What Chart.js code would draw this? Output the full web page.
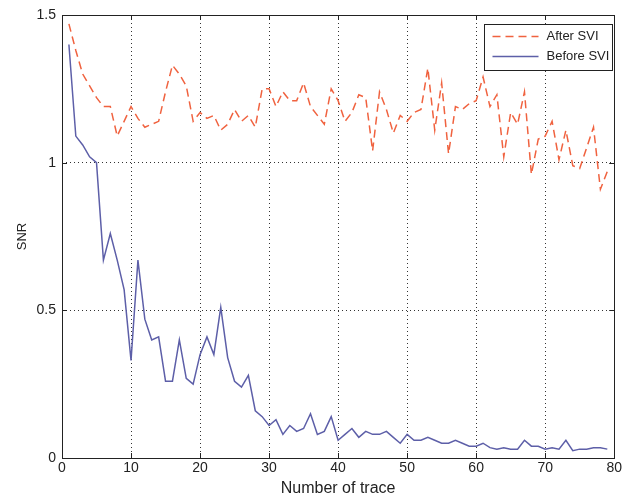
<!DOCTYPE html>
<html>
<head>
<meta charset="utf-8">
<script src="https://cdn.jsdelivr.net/npm/chart.js@4/dist/chart.umd.min.js"></script>
<style>
  html, body { margin: 0; padding: 0; background: #fff; }
  canvas { display: block; }
</style>
</head>
<body>
<canvas id="snrChart" width="624" height="503"></canvas>
<script>
// trace numbers along the x axis
const traceNumbers = [
  1, 2, 3, 4, 5, 6, 7, 8, 9, 10, 11, 12, 13, 14, 15, 16, 17, 18, 19, 20,
  21, 22, 23, 24, 25, 26, 27, 28, 29, 30, 31, 32, 33, 34, 35, 36, 37, 38, 39, 40,
  41, 42, 43, 44, 45, 46, 47, 48, 49, 50, 51, 52, 53, 54, 55, 56, 57, 58, 59, 60,
  61, 62, 63, 64, 65, 66, 67, 68, 69, 70, 71, 72, 73, 74, 75, 76, 77, 78, 79
];

// SNR after SVI (red dashed)
const snrAfter = [
  1.47, 1.38, 1.30, 1.26, 1.22, 1.19, 1.19, 1.09, 1.14, 1.19,
  1.15, 1.12, 1.13, 1.14, 1.24, 1.33, 1.30, 1.26, 1.14, 1.17,
  1.15, 1.16, 1.11, 1.13, 1.18, 1.14, 1.16, 1.12, 1.25, 1.25,
  1.19, 1.24, 1.21, 1.21, 1.27, 1.19, 1.16, 1.13, 1.25, 1.21,
  1.14, 1.17, 1.23, 1.22, 1.04, 1.24, 1.18, 1.10, 1.16, 1.14,
  1.17, 1.18, 1.32, 1.11, 1.27, 1.03, 1.19, 1.18, 1.20, 1.21,
  1.29, 1.19, 1.23, 1.02, 1.17, 1.13, 1.24, 0.96, 1.08, 1.09,
  1.14, 1.01, 1.11, 0.99, 0.98, 1.05, 1.12, 0.91, 0.97
];

// SNR before SVI (blue solid)
const snrBefore = [
  1.40, 1.09, 1.06, 1.02, 1.00, 0.67, 0.76, 0.67, 0.57, 0.33,
  0.67, 0.47, 0.40, 0.41, 0.26, 0.26, 0.40, 0.27, 0.25, 0.35,
  0.41, 0.35, 0.51, 0.34, 0.26, 0.24, 0.28, 0.16, 0.14, 0.11,
  0.13, 0.08, 0.11, 0.09, 0.10, 0.15, 0.08, 0.09, 0.14, 0.06,
  0.08, 0.10, 0.07, 0.09, 0.08, 0.08, 0.09, 0.07, 0.05, 0.08,
  0.06, 0.06, 0.07, 0.06, 0.05, 0.05, 0.06, 0.05, 0.04, 0.04,
  0.05, 0.035, 0.03, 0.035, 0.03, 0.03, 0.06, 0.04, 0.04, 0.03,
  0.035, 0.03, 0.06, 0.025, 0.03, 0.03, 0.035, 0.035, 0.03
];

const xTicks = [0, 10, 20, 30, 40, 50, 60, 70, 80];
const yTicks = [0, 0.5, 1, 1.5];

const FONT = "'Liberation Sans', Arial, sans-serif";
const RED = '#f0623f';
const BLUE = '#5d5fa8';

function toPoints(ys) {
  return traceNumbers.map((x, i) => ({ x: x, y: ys[i] }));
}

// frame, inward ticks and boxed legend, matlab style
const matlabFrame = {
  id: 'matlabFrame',
  afterDraw(chart) {
    const { ctx, chartArea: a, scales } = chart;
    ctx.save();
    ctx.strokeStyle = '#222';
    ctx.lineWidth = 1;
    ctx.setLineDash([]);
    ctx.strokeRect(Math.round(a.left) + 0.5, Math.round(a.top) + 0.5,
      Math.round(a.right - a.left), Math.round(a.bottom - a.top));

    const tl = 5;
    ctx.beginPath();
    xTicks.forEach(v => {
      const px = Math.round(scales.x.getPixelForValue(v)) + 0.5;
      ctx.moveTo(px, a.bottom); ctx.lineTo(px, a.bottom - tl);
      ctx.moveTo(px, a.top); ctx.lineTo(px, a.top + tl);
    });
    yTicks.forEach(v => {
      const py = Math.round(scales.y.getPixelForValue(v)) + 0.5;
      ctx.moveTo(a.left, py); ctx.lineTo(a.left + tl, py);
      ctx.moveTo(a.right, py); ctx.lineTo(a.right - tl, py);
    });
    ctx.stroke();

    // legend box
    const bx = 484.5, by = 24.5, bw = 128, bh = 46;
    ctx.fillStyle = '#fff';
    ctx.fillRect(bx, by, bw, bh);
    ctx.strokeStyle = '#222';
    ctx.strokeRect(bx, by, bw, bh);
    ctx.font = '13px ' + FONT;
    ctx.textBaseline = 'middle';
    ctx.textAlign = 'left';
    chart.data.datasets.forEach((ds, i) => {
      const ly = by + 12 + i * 20;
      ctx.strokeStyle = ds.borderColor;
      ctx.lineWidth = 1.4;
      ctx.setLineDash(ds.borderDash || []);
      ctx.beginPath();
      ctx.moveTo(bx + 8, ly); ctx.lineTo(bx + 54, ly);
      ctx.stroke();
      ctx.setLineDash([]);
      ctx.fillStyle = '#222';
      ctx.fillText(ds.label, bx + 62, ly);
    });
    ctx.restore();
  }
};

new Chart(document.getElementById('snrChart'), {
  type: 'line',
  data: {
    datasets: [
      {
        label: 'After SVI',
        data: toPoints(snrAfter),
        borderColor: RED,
        borderWidth: 1.5,
        borderDash: [8, 5],
        pointRadius: 0,
        tension: 0,
        fill: false
      },
      {
        label: 'Before SVI',
        data: toPoints(snrBefore),
        borderColor: BLUE,
        borderWidth: 1.5,
        pointRadius: 0,
        tension: 0,
        fill: false
      }
    ]
  },
  options: {
    responsive: false,
    animation: false,
    devicePixelRatio: 1,
    layout: { padding: { left: 0, right: 9, top: 15, bottom: 0 } },
    plugins: {
      legend: { display: false },
      tooltip: { enabled: false }
    },
    scales: {
      x: {
        type: 'linear',
        min: 0,
        max: 80,
        afterFit: s => { s.height = 45; },
        afterBuildTicks: s => { s.ticks = xTicks.map(v => ({ value: v })); },
        ticks: {
          color: '#222', font: { family: FONT, size: 14 }, padding: 2, maxRotation: 0,
          callback: v => String(v)
        },
        grid: { color: '#333', lineWidth: 1, drawTicks: false },
        border: { display: false, dash: [1, 3] },
        title: {
          display: true,
          text: 'Number of trace',
          color: '#222',
          font: { family: FONT, size: 16 },
          padding: { top: 0, bottom: 5 }
        }
      },
      y: {
        min: 0,
        max: 1.5,
        afterFit: s => { s.width = 62; },
        afterBuildTicks: s => { s.ticks = yTicks.map(v => ({ value: v })); },
        ticks: {
          color: '#222', font: { family: FONT, size: 14 }, padding: 6,
          callback: v => String(v)
        },
        grid: { color: '#333', lineWidth: 1, drawTicks: false },
        border: { display: false, dash: [1, 3] },
        title: {
          display: true,
          text: 'SNR',
          color: '#222',
          font: { family: FONT, size: 13 },
          padding: { top: 15, bottom: 0 }
        }
      }
    }
  },
  plugins: [matlabFrame]
});
</script>
</body>
</html>
